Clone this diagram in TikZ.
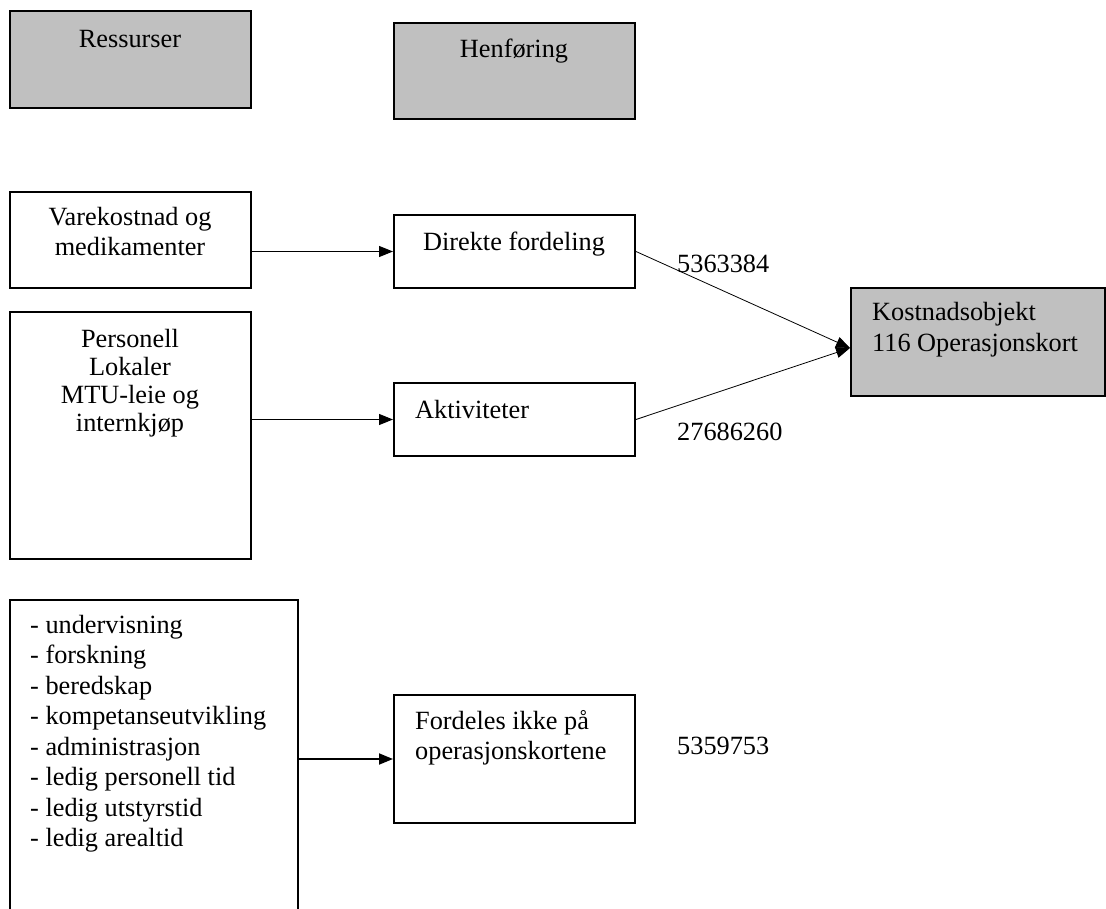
\documentclass[tikz,border=0pt]{standalone}
\usepackage{fontspec}
\setmainfont{Liberation Serif}
\usetikzlibrary{arrows.meta,calc}
\definecolor{boxgray}{RGB}{192,192,192}
\tikzset{
  box/.style={draw=black,line width=2pt,inner sep=0pt,anchor=north west,rectangle},
  graybox/.style={box,fill=boxgray},
  txt/.style={inner sep=0pt,anchor=north,font=\fontsize{26.3}{30}\selectfont},
  txtl/.style={txt,anchor=north west,align=left},
  txtc/.style={txt,anchor=north,align=center},
  conn/.style={draw=black,line width=0.8pt,-{Triangle[length=14pt,width=11pt]}},
  thickconn/.style={conn,line width=1.8pt}
}
\begin{document}
\begin{tikzpicture}[x=1pt,y=-1pt]
\useasboundingbox (0,0) rectangle (1106,909);

% header boxes
\node[graybox,minimum width=241pt,minimum height=97pt] (res) at (9,10) {};
\node[txtc] (restxt) at (130,26) {\strut Ressurser};
\node[graybox,minimum width=241pt,minimum height=96pt] (hen) at (393,22) {};
\node[txtc] (hentxt) at (514,36) {\strut Henføring};

% resource boxes
\node[box,minimum width=241pt,minimum height=96pt] (vare) at (9,191) {};
\node[txtc] (varetxt) at (130,204) {\strut Varekostnad og\\medikamenter};
\node[box,minimum width=241pt,minimum height=247pt] (pers) at (9,311) {};
\node[txtc,font=\fontsize{26.3}{28}\selectfont] (perstxt) at (130,327.4)
  {\strut Personell\\Lokaler\\MTU-leie og\\internkjøp};

% allocation boxes
\node[box,minimum width=241pt,minimum height=73pt] (dir) at (393,214) {};
\node[txtc] (dirtxt) at (514,229) {\strut Direkte fordeling};
\node[box,minimum width=241pt,minimum height=73pt] (akt) at (393,382) {};
\node[txtl] (akttxt) at (415,397) {\strut Aktiviteter};
\node[box,minimum width=241pt,minimum height=128pt] (ford) at (393,694) {};
\node[txtl] (fordtxt) at (415,708) {\strut Fordeles ikke på\\operasjonskortene};

% cost object
\node[graybox,minimum width=254pt,minimum height=108pt] (kost) at (850,287) {};
\node[txtl,font=\fontsize{26.3}{31}\selectfont] (kosttxt) at (872,298.3)
  {\strut Kostnadsobjekt\\116 Operasjonskort};

% activities not allocated (box runs past the lower edge)
\begin{scope}
\clip (0,0) rectangle (1106,909);
\node[box,minimum width=288pt,minimum height=340pt] (lst) at (9,599) {};
\end{scope}
\node[txtl,font=\fontsize{26.3}{30.5}\selectfont] (lsttxt) at (30,611.6)
  {\strut - undervisning\\- forskning\\- beredskap\\- kompetanseutvikling\\- administrasjon\\- ledig personell tid\\- ledig utstyrstid\\- ledig arealtid};

% amounts
\node[txtl] (n1) at (677,251) {\strut 5363384};
\node[txtl] (n2) at (677,419) {\strut 27686260};
\node[txtl] (n3) at (677,733) {\strut 5359753};

% connectors
\coordinate (kin) at ($(kost.west)+(0,6)$);
\draw[conn] (vare.east |- dir.west) -- (dir.west);
\draw[conn] (pers.east |- akt.west) -- (akt.west);
\draw[thickconn] (lst.east |- ford.west) -- (ford.west);
\draw[conn] (dir.east) -- (kin);
\draw[conn] (akt.east) -- (kin);
\end{tikzpicture}
\end{document}
